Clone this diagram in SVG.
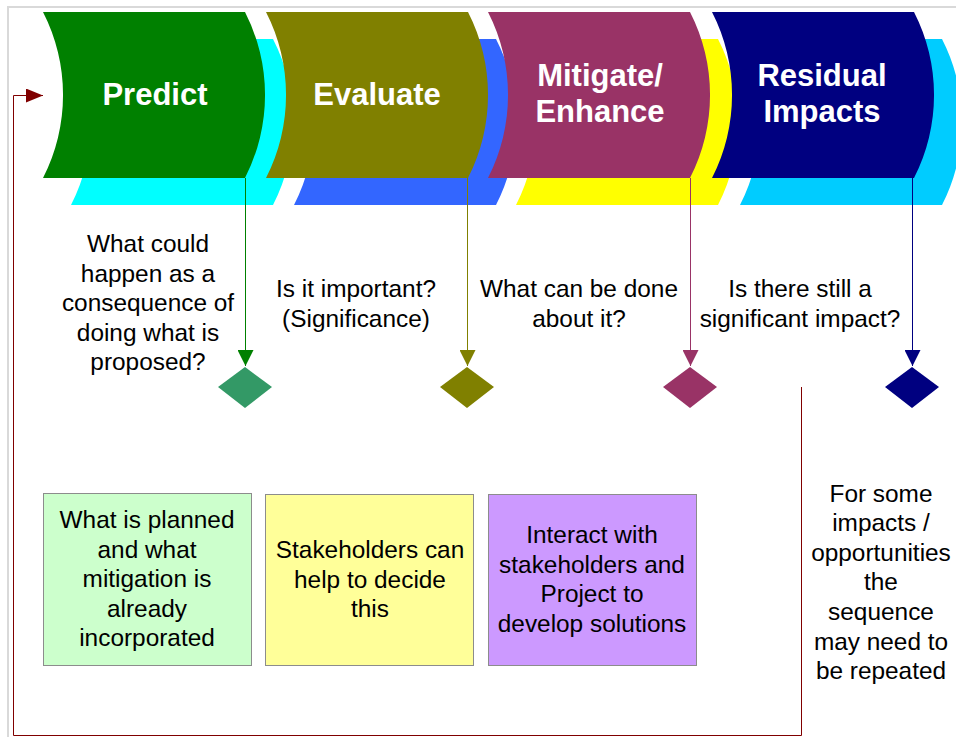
<svg xmlns="http://www.w3.org/2000/svg" width="956" height="737" viewBox="0 0 956 737">
  <style>
    .title { font-family: "Liberation Sans", Arial, sans-serif; font-weight: bold; font-size: 31px; fill: #ffffff; text-anchor: middle; }
    .txt { font-family: "Liberation Sans", Arial, sans-serif; font-size: 24.4px; fill: #000000; text-anchor: middle; }
    .box { stroke: #8c8c8c; stroke-width: 1; }
    .link { fill: none; stroke-width: 1; }
    .frame { stroke: #d9d9d9; stroke-width: 2; fill: none; }
  </style>
  <defs>
    <!-- one stage shape: straight top/bottom, concave left and convex right arcs -->
    <path id="stage" d="M0,0 H202 A182,182 0 0 1 202,166 H0 A182,182 0 0 0 0,0 Z"/>
    <marker id="ah-green" markerUnits="userSpaceOnUse" markerWidth="16" markerHeight="16" refX="16" refY="8" orient="auto">
      <path d="M0,0 L16,8 L0,16 Z" fill="#008000"/>
    </marker>
    <marker id="ah-olive" markerUnits="userSpaceOnUse" markerWidth="16" markerHeight="16" refX="16" refY="8" orient="auto">
      <path d="M0,0 L16,8 L0,16 Z" fill="#808000"/>
    </marker>
    <marker id="ah-plum" markerUnits="userSpaceOnUse" markerWidth="16" markerHeight="16" refX="16" refY="8" orient="auto">
      <path d="M0,0 L16,8 L0,16 Z" fill="#993366"/>
    </marker>
    <marker id="ah-navy" markerUnits="userSpaceOnUse" markerWidth="16" markerHeight="16" refX="16" refY="8" orient="auto">
      <path d="M0,0 L16,8 L0,16 Z" fill="#000080"/>
    </marker>
    <marker id="ah-red" markerUnits="userSpaceOnUse" markerWidth="17" markerHeight="14" refX="17" refY="7" orient="auto">
      <path d="M0,0 L17,7 L0,14 Z" fill="#800000"/>
    </marker>
  </defs>

  <rect width="956" height="737" fill="#ffffff"/>
  <!-- page frame -->
  <path class="frame" d="M8,737 V7 H956"/>

  <!-- stages -->
  <g id="predict">
    <use href="#stage" x="71" y="39" fill="#00ffff"/>
    <use href="#stage" x="43" y="12" fill="#008000"/>
    <text class="title" x="155" y="105">Predict</text>
  </g>
  <g id="evaluate">
    <use href="#stage" x="294" y="39" fill="#3366ff"/>
    <use href="#stage" x="266" y="12" fill="#808000"/>
    <text class="title" x="377" y="105">Evaluate</text>
  </g>
  <g id="mitigate">
    <use href="#stage" x="516" y="39" fill="#ffff00"/>
    <use href="#stage" x="488" y="12" fill="#993366"/>
    <text class="title" x="600" y="86">Mitigate/</text>
    <text class="title" x="600" y="122">Enhance</text>
  </g>
  <g id="residual">
    <use href="#stage" x="740" y="39" fill="#00ccff"/>
    <use href="#stage" x="712" y="12" fill="#000080"/>
    <text class="title" x="822" y="86">Residual</text>
    <text class="title" x="822" y="122">Impacts</text>
  </g>

  <!-- questions under each stage -->
  <g id="q-predict">
    <text class="txt" x="148" y="252">What could</text>
    <text class="txt" x="148" y="282">happen as a</text>
    <text class="txt" x="148" y="311">consequence of</text>
    <text class="txt" x="148" y="341">doing what is</text>
    <text class="txt" x="148" y="370">proposed?</text>
  </g>
  <g id="q-evaluate">
    <text class="txt" x="356" y="297">Is it important?</text>
    <text class="txt" x="356" y="327">(Significance)</text>
  </g>
  <g id="q-mitigate">
    <text class="txt" x="579" y="297">What can be done</text>
    <text class="txt" x="579" y="327">about it?</text>
  </g>
  <g id="q-residual">
    <text class="txt" x="800" y="297">Is there still a</text>
    <text class="txt" x="800" y="327">significant impact?</text>
  </g>

  <!-- decision diamonds -->
  <g id="d-predict"><path d="M245,367 L272,387 L245,408 L218,387 Z" fill="#339966"/></g>
  <g id="d-evaluate"><path d="M467,367 L494,387 L467,408 L440,387 Z" fill="#808000"/></g>
  <g id="d-mitigate"><path d="M690,367 L717,387 L690,408 L663,387 Z" fill="#993366"/></g>
  <g id="d-residual"><path d="M912,367 L939,387 L912,408 L885,387 Z" fill="#000080"/></g>

  <!-- notes -->
  <g id="note-predict">
    <rect class="box" x="43.5" y="493.5" width="208" height="172" fill="#ccffcc"/>
    <text class="txt" x="147" y="528">What is planned</text>
    <text class="txt" x="147" y="558">and what</text>
    <text class="txt" x="147" y="587">mitigation is</text>
    <text class="txt" x="147" y="617">already</text>
    <text class="txt" x="147" y="646">incorporated</text>
  </g>
  <g id="note-evaluate">
    <rect class="box" x="265.5" y="494.5" width="208" height="171" fill="#ffff99"/>
    <text class="txt" x="370" y="558">Stakeholders can</text>
    <text class="txt" x="370" y="588">help to decide</text>
    <text class="txt" x="370" y="617">this</text>
  </g>
  <g id="note-mitigate">
    <rect class="box" x="488.5" y="494.5" width="208" height="171" fill="#cc99ff"/>
    <text class="txt" x="592" y="543">Interact with</text>
    <text class="txt" x="592" y="573">stakeholders and</text>
    <text class="txt" x="592" y="602">Project to</text>
    <text class="txt" x="592" y="632">develop solutions</text>
  </g>
  <g id="note-repeat">
    <text class="txt" x="881" y="502">For some</text>
    <text class="txt" x="881" y="531">impacts /</text>
    <text class="txt" x="881" y="561">opportunities</text>
    <text class="txt" x="881" y="590">the</text>
    <text class="txt" x="881" y="620">sequence</text>
    <text class="txt" x="881" y="650">may need to</text>
    <text class="txt" x="881" y="679">be repeated</text>
  </g>

  <!-- connectors -->
  <g id="connectors">
    <path class="link" d="M245.5,178 V366" stroke="#008000" marker-end="url(#ah-green)"/>
    <path class="link" d="M467.5,178 V366" stroke="#808000" marker-end="url(#ah-olive)"/>
    <path class="link" d="M690.5,178 V366" stroke="#993366" marker-end="url(#ah-plum)"/>
    <path class="link" d="M912.5,178 V366" stroke="#000080" marker-end="url(#ah-navy)"/>
    <path class="link" d="M801.5,387 V735.5 H13.5 V95.5 H43" stroke="#800000" marker-end="url(#ah-red)"/>
  </g>
</svg>
